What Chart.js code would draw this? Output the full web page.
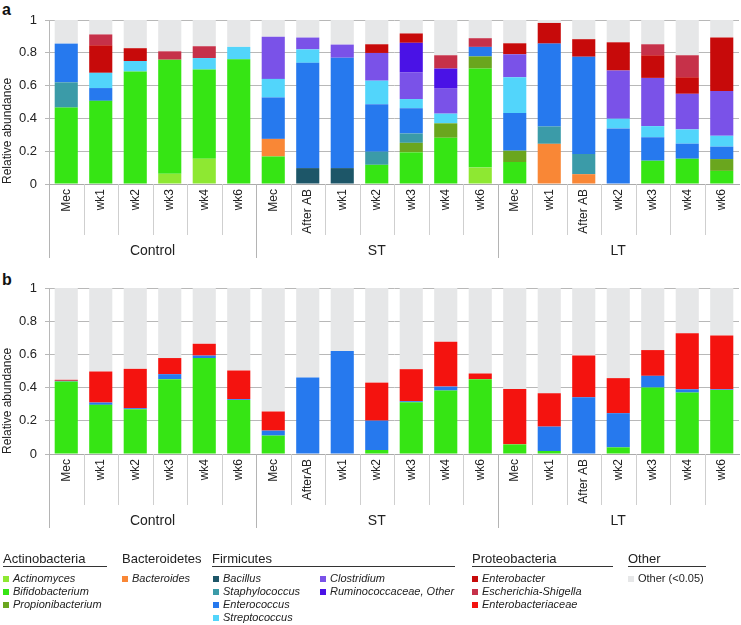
<!DOCTYPE html>
<html>
<head>
<meta charset="utf-8">
<script src="https://cdn.jsdelivr.net/npm/chart.js@4"></script>
<style>
  body { margin: 0; background: #fff; font-family: "Liberation Sans", Arial, sans-serif; }
  #wrap { position: relative; width: 741px; height: 625px; overflow: hidden; }
  canvas { position: absolute; left: 0; }
  .panel { position: absolute; left: 2px; font-weight: bold; font-size: 16px; color: #111; }
  .hdr { position: absolute; top: 551px; font-size: 13px; color: #222; }
  .rule { position: absolute; top: 566px; height: 0; border-top: 1.5px solid #333; }
  .item { position: absolute; font-size: 11px; font-style: italic; color: #222; white-space: nowrap; line-height: 13px; }
  .item.plain { font-style: normal; }
  .sw { display: inline-block; width: 6px; height: 6px; margin-right: 4px; vertical-align: 0px; }
</style>
</head>
<body>
<div id="wrap">
  <div class="panel" style="top:1px">a</div>
  <div class="panel" style="top:271px">b</div>
  <canvas id="chartA" width="741" height="270" style="top:0px"></canvas>
  <canvas id="chartB" width="741" height="285" style="top:270px"></canvas>
  <div id="legend"></div>
</div>
<script>
// categories and groups
const labelsA = ['Mec','wk1','wk2','wk3','wk4','wk6','Mec','After AB','wk1','wk2','wk3','wk4','wk6','Mec','wk1','After AB','wk2','wk3','wk4','wk6'];
const labelsB = ['Mec','wk1','wk2','wk3','wk4','wk6','Mec','AfterAB','wk1','wk2','wk3','wk4','wk6','Mec','wk1','After AB','wk2','wk3','wk4','wk6'];
const groupNames = ['Control','ST','LT'];
const groupSizes = [6,7,7];
const yTicks = [0,0.2,0.4,0.6,0.8,1];

// panel a - relative abundance per genus (segment heights)
const actinomycesA   = [0,0,0,.062,.154,0, 0,0,0,0,0,0,.100, 0,0,0,0,0,0,0];
const bifidoA        = [.466,.507,.686,.696,.544,.760, .168,0,0,.117,.193,.282,.604, .134,0,0,0,.142,.154,.080];
const propioniA      = [0,0,0,0,0,0, 0,0,0,0,.058,.088,.074, .069,0,0,0,0,0,.072];
const bacteroidesA   = [0,0,0,0,0,0, .107,0,0,0,0,0,0, 0,.245,.060,0,0,0,0];
const bacillusA      = [0,0,0,0,0,0, 0,.097,.097,0,0,0,0, 0,0,0,0,0,0,0];
const staphA         = [.154,0,0,0,0,0, 0,0,0,.080,.057,0,0, 0,.106,.123,0,0,0,0];
const enteroA        = [.236,.078,0,0,0,0, .253,.642,.673,.290,.154,0,.058, .230,.505,.593,.339,.143,.092,.076];
const strepA         = [0,.093,.064,0,.070,.076, .113,.082,0,.143,.056,.059,0, .218,0,0,.059,.068,.087,.066];
const clostA         = [0,0,0,0,0,0, .257,.072,.080,.169,.164,.156,0, .140,0,0,.294,.294,.217,.273];
const ruminoA        = [0,0,0,0,0,0, 0,0,0,0,.179,.119,0, 0,0,0,0,0,0,0];
const enterobacterA  = [0,.168,.078,0,0,0, 0,0,0,.053,.057,0,0, .067,.126,.107,.172,.138,.101,.326];
const escherichiaA   = [0,.066,0,.051,.072,0, 0,0,0,0,0,.081,.053, 0,0,0,0,.067,.134,0];
const otherA         = [.144,.088,.172,.191,.160,.164, .102,.107,.150,.148,.082,.215,.111, .142,.018,.117,.136,.148,.215,.107];

// panel b
const bifidoB        = [.437,.296,.270,.451,.578,.326, .111,0,0,.024,.312,.382,.451, .058,.018,0,.040,.400,.370,.386];
const enteroB        = [.004,.014,.006,.030,.015,.005, .030,.461,.620,.177,.006,.024,0, 0,.147,.342,.206,.071,.020,.004];
const enterobactB    = [.006,.187,.237,.097,.071,.172, .115,0,0,.229,.193,.270,.034, .334,.201,.251,.211,.155,.338,.324];
const otherB         = [.553,.503,.487,.422,.336,.497, .744,.539,.380,.570,.489,.324,.515, .608,.634,.407,.543,.374,.272,.286];

const colors = {
  actinomyces: '#8ee832', bifido: '#36e514', propioni: '#6aa61e', bacteroides: '#f98736',
  bacillus: '#1d5668', staph: '#3b9ba8', entero: '#2679ee', strep: '#52d5fb',
  clost: '#7a52e8', rumino: '#4a12e6', enterobacter: '#c70a0a', escherichia: '#c63149',
  enterobact: '#f4130f', other: '#e6e7e8'
};

const FONT = '"Liberation Sans", Arial, sans-serif';

// draws the rotated category labels, separators and group names under the bars
const groupAxis = {
  id: 'groupAxis',
  afterDraw(chart) {
    let ctx = chart.ctx;
    let x = chart.scales.x;
    let bottom = chart.chartArea.bottom;
    let n = chart.data.labels.length;
    let w = x.width / n;
    let longEdges = [0];
    let acc = 0;
    for (let g = 0; g < groupSizes.length - 1; g++) { acc += groupSizes[g]; longEdges.push(acc); }

    ctx.save();
    ctx.lineWidth = 1;
    for (let i = 0; i < n; i++) {
      let px = Math.round(x.left + i * w) + 0.5;
      let isLong = longEdges.includes(i);
      ctx.strokeStyle = isLong ? '#b4b4b4' : '#cfcfcf';
      ctx.beginPath();
      ctx.moveTo(px, bottom);
      ctx.lineTo(px, bottom + (isLong ? 74 : 51));
      ctx.stroke();
    }

    ctx.fillStyle = '#222';
    ctx.font = '12px ' + FONT;
    ctx.textAlign = 'right';
    ctx.textBaseline = 'middle';
    for (let i = 0; i < n; i++) {
      ctx.save();
      ctx.translate(x.getPixelForValue(i), bottom + 5);
      ctx.rotate(-Math.PI / 2);
      ctx.fillText(chart.data.labels[i], 0, 0);
      ctx.restore();
    }

    ctx.font = '14px ' + FONT;
    ctx.textAlign = 'center';
    let start = 0;
    for (let g = 0; g < groupNames.length; g++) {
      let cx = x.left + (start + groupSizes[g] / 2) * w;
      ctx.fillText(groupNames[g], cx, bottom + 67);
      start += groupSizes[g];
    }
    ctx.restore();
  }
};

function makeChart(id, labels, series, padTop, axisHeight) {
  let datasets = series.map(s => ({
    label: s[0], data: s[1], backgroundColor: s[2], borderWidth: 0,
    barPercentage: 0.67, categoryPercentage: 1.0
  }));
  return new Chart(document.getElementById(id), {
    type: 'bar',
    data: { labels: labels, datasets: datasets },
    plugins: [groupAxis],
    options: {
      responsive: false,
      animation: false,
      devicePixelRatio: 1,
      layout: { padding: { top: padTop, right: 2, left: 0, bottom: 0 } },
      plugins: { legend: { display: false }, tooltip: { enabled: false } },
      scales: {
        x: {
          stacked: true,
          grid: { display: false },
          border: { display: true, color: '#aaa' },
          ticks: { display: false },
          afterFit: s => { s.height = axisHeight; }
        },
        y: {
          stacked: true,
          min: 0, max: 1,
          afterFit: s => { s.width = 49; },
          afterBuildTicks: s => { s.ticks = yTicks.map(v => ({ value: v })); },
          grid: { color: '#b8b8b8', tickLength: 4 },
          border: { display: true, color: '#b8b8b8' },
          ticks: {
            padding: 8, color: '#222', font: { family: FONT, size: 13 },
            callback: v => String(+Number(v).toFixed(1))
          },
          title: {
            display: true, text: 'Relative abundance', align: 'start',
            color: '#222', font: { family: FONT, size: 12 }, padding: { top: 0, bottom: 0 }
          }
        }
      }
    }
  });
}

makeChart('chartA', labelsA, [
  ['Actinomyces', actinomycesA, colors.actinomyces],
  ['Bifidobacterium', bifidoA, colors.bifido],
  ['Propionibacterium', propioniA, colors.propioni],
  ['Bacteroides', bacteroidesA, colors.bacteroides],
  ['Bacillus', bacillusA, colors.bacillus],
  ['Staphylococcus', staphA, colors.staph],
  ['Enterococcus', enteroA, colors.entero],
  ['Streptococcus', strepA, colors.strep],
  ['Clostridium', clostA, colors.clost],
  ['Ruminococcaceae, Other', ruminoA, colors.rumino],
  ['Enterobacter', enterobacterA, colors.enterobacter],
  ['Escherichia-Shigella', escherichiaA, colors.escherichia],
  ['Other (<0.05)', otherA, colors.other]
], 20, 86);

makeChart('chartB', labelsB, [
  ['Bifidobacterium', bifidoB, colors.bifido],
  ['Enterococcus', enteroB, colors.entero],
  ['Enterobacteriaceae', enterobactB, colors.enterobact],
  ['Other (<0.05)', otherB, colors.other]
], 18, 101);

// legend blocks: header, underline span, item columns
const legendBlocks = [
  { name: 'Actinobacteria', x: 3, rule: [3, 107], cols: [[3, [['Actinomyces','actinomyces'],['Bifidobacterium','bifido'],['Propionibacterium','propioni']]]] },
  { name: 'Bacteroidetes', x: 122, rule: null, cols: [[122, [['Bacteroides','bacteroides']]]] },
  { name: 'Firmicutes', x: 212, rule: [212, 455], cols: [
      [213, [['Bacillus','bacillus'],['Staphylococcus','staph'],['Enterococcus','entero'],['Streptococcus','strep']]],
      [320, [['Clostridium','clost'],['Ruminococcaceae, Other','rumino']]] ] },
  { name: 'Proteobacteria', x: 472, rule: [472, 613], cols: [[472, [['Enterobacter','enterobacter'],['Escherichia-Shigella','escherichia'],['Enterobacteriaceae','enterobact']]]] },
  { name: 'Other', x: 628, rule: [628, 706], cols: [[628, [['Other (<0.05)','other']]]], plain: true }
];

let html = '';
legendBlocks.forEach(b => {
  html += '<div class="hdr" style="left:' + b.x + 'px">' + b.name + '</div>';
  if (b.rule) html += '<div class="rule" style="left:' + b.rule[0] + 'px;width:' + (b.rule[1] - b.rule[0]) + 'px"></div>';
  b.cols.forEach(col => {
    col[1].forEach((it, k) => {
      html += '<div class="item' + (b.plain ? ' plain' : '') + '" style="left:' + col[0] + 'px;top:' + (572 + k * 13) + 'px">' +
        '<span class="sw" style="background:' + colors[it[1]] + '"></span>' + it[0].replace('<', '&lt;') + '</div>';
    });
  });
});
document.getElementById('legend').innerHTML = html;
</script>
</body>
</html>
